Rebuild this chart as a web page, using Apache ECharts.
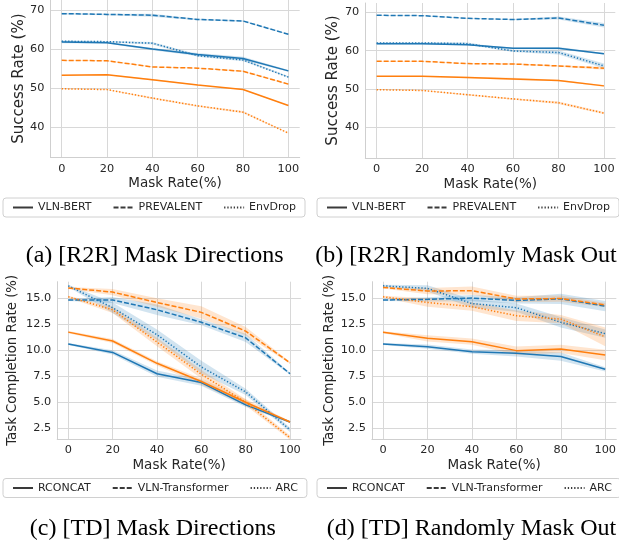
<!DOCTYPE html>
<html><head><meta charset="utf-8">
<script src="https://cdn.jsdelivr.net/npm/echarts@6/dist/echarts.min.js"></script>
<style>html,body{margin:0;padding:0;background:#fff}#c{width:619px;height:544px}</style>
</head><body><div id="c"></div>
<script>
// ---------- data ----------
const maskRates = [0, 20, 40, 60, 80, 100];
const r2rTicks = [40, 50, 60, 70];
const tdTicks = [2.5, 5.0, 7.5, 10.0, 12.5, 15.0];
const r2rLegend = ['VLN-BERT', 'PREVALENT', 'EnvDrop'];
const tdLegend = ['RCONCAT', 'VLN-Transformer', 'ARC'];
const captions = ['(a) [R2R] Mask Directions', '(b) [R2R] Randomly Mask Out',
                  '(c) [TD] Mask Directions', '(d) [TD] Randomly Mask Out'];
const xLabel = 'Mask Rate(%)';
const r2rYLabel = 'Success Rate (%)';
const tdYLabel = 'Task Completion Rate (%)';

// (a) R2R Mask Directions
const aBlueVlnBert = [61.8, 61.6, 60.0, 58.6, 57.6, 54.4];
const aBluePrevalent = [69.1, 68.9, 68.7, 67.6, 67.2, 63.8];
const aBlueEnvDrop = [62.0, 61.9, 61.5, 58.3, 57.2, 52.8];
const aOrangeVlnBert = [53.3, 53.4, 52.1, 50.8, 49.6, 45.5];
const aOrangePrevalent = [57.1, 57.0, 55.4, 55.1, 54.3, 51.0];
const aOrangeEnvDrop = [49.8, 49.6, 47.4, 45.4, 43.8, 38.4];
const aBlueVlnBertSpread = [0.3, 0.2, 0.3, 0.4, 0.4, 0.2];
const aBluePrevalentSpread = [0.2, 0.2, 0.4, 0.2, 0.2, 0.1];
const aBlueEnvDropSpread = [0.2, 0.2, 0.3, 0.3, 0.3, 0.2];
const aOrangeVlnBertSpread = [0.1, 0.1, 0.2, 0.1, 0.1, 0.1];
const aOrangePrevalentSpread = [0.1, 0.1, 0.1, 0.1, 0.2, 0.1];
const aOrangeEnvDropSpread = [0.1, 0.1, 0.2, 0.2, 0.3, 0.1];

// (b) R2R Randomly Mask Out
const bBlueVlnBert = [61.8, 61.8, 61.5, 60.6, 60.6, 59.2];
const bBluePrevalent = [69.2, 69.1, 68.4, 68.1, 68.5, 66.6];
const bBlueEnvDrop = [62.0, 62.0, 61.8, 59.9, 59.5, 56.0];
const bOrangeVlnBert = [53.3, 53.3, 53.0, 52.6, 52.2, 50.8];
const bOrangePrevalent = [57.2, 57.2, 56.6, 56.5, 56.0, 55.4];
const bOrangeEnvDrop = [49.8, 49.6, 48.5, 47.4, 46.4, 43.7];
const bBlueVlnBertSpread = [0.2, 0.2, 0.2, 0.2, 0.3, 0.2];
const bBluePrevalentSpread = [0.1, 0.1, 0.1, 0.1, 0.4, 0.6];
const bBlueEnvDropSpread = [0.2, 0.2, 0.3, 0.3, 0.5, 0.6];
const bOrangeVlnBertSpread = [0.1, 0.1, 0.2, 0.3, 0.2, 0.2];
const bOrangePrevalentSpread = [0.1, 0.1, 0.1, 0.2, 0.2, 0.4];
const bOrangeEnvDropSpread = [0.1, 0.1, 0.2, 0.2, 0.3, 0.3];

// (c) TD Mask Directions
const cBlueRconcat = [10.6, 9.8, 7.75, 6.9, 4.75, 3.1];
const cBlueVlnT = [14.84, 14.84, 13.9, 12.7, 11.2, 7.75];
const cBlueArc = [16.2, 14.1, 11.5, 8.4, 6.0, 2.35];
const cOrangeRconcat = [11.75, 10.9, 8.75, 7.0, 5.0, 3.1];
const cOrangeVlnT = [16.0, 15.6, 14.6, 13.65, 11.85, 8.8];
const cOrangeArc = [15.15, 13.9, 10.8, 7.7, 5.0, 1.6];
const cBlueRconcatSpread = [0.1, 0.2, 0.3, 0.3, 0.2, 0.1];
const cBlueVlnTSpread = [0.1, 0.3, 0.5, 0.3, 0.4, 0.1];
const cBlueArcSpread = [0.1, 0.5, 0.5, 0.6, 0.3, 0.2];
const cOrangeRconcatSpread = [0.1, 0.2, 0.2, 0.3, 0.3, 0.1];
const cOrangeVlnTSpread = [0.1, 0.3, 0.4, 0.6, 0.4, 0.1];
const cOrangeArcSpread = [0.1, 0.3, 0.4, 0.4, 0.3, 0.2];

// (d) TD Randomly Mask Out
const dBlueRconcat = [10.6, 10.35, 9.87, 9.71, 9.4, 8.17];
const dBlueVlnT = [14.84, 14.9, 15.03, 14.8, 14.95, 14.25];
const dBlueArc = [16.2, 15.96, 14.5, 14.1, 12.7, 11.6];
const dOrangeRconcat = [11.73, 11.15, 10.83, 9.97, 10.13, 9.55];
const dOrangeVlnT = [16.05, 15.7, 15.74, 14.94, 14.98, 14.36];
const dOrangeArc = [15.15, 14.6, 14.2, 13.33, 13.0, 11.3];
const dBlueRconcatSpread = [0.1, 0.2, 0.2, 0.3, 0.4, 0.2];
const dBlueVlnTSpread = [0.1, 0.2, 0.3, 0.3, 0.5, 0.5];
const dBlueArcSpread = [0.1, 0.3, 0.4, 0.4, 0.5, 0.4];
const dOrangeRconcatSpread = [0.1, 0.3, 0.3, 0.4, 0.4, 0.5];
const dOrangeVlnTSpread = [0.1, 0.3, 0.4, 0.3, 0.3, 0.2];
const dOrangeArcSpread = [0.1, 0.4, 0.4, 0.5, 0.4, 0.9];

// ---------- styling ----------
const BLUE = '#1f77b4', ORANGE = '#ff7f0e';
const BLUE_BAND = 'rgba(31,119,180,0.2)', ORANGE_BAND = 'rgba(255,127,14,0.2)';
const TXT = '#262626', GRID = '#d8d8d8';
const DASH = {solid: 'solid', dashed: [5, 2], dotted: [1.3, 1.9]};
const FONT = 'DejaVu Sans';

function lineS(idx, vals, dash, color) {
  return {
    type: 'line', xAxisIndex: idx, yAxisIndex: idx, symbol: 'none', z: 3, silent: true,
    data: maskRates.map((x, i) => [x, vals[i]]),
    lineStyle: {color: color, width: 1.5, type: DASH[dash]}, itemStyle: {color: color}
  };
}
function bandS(idx, vals, spread, color) {
  return {
    type: 'custom', xAxisIndex: idx, yAxisIndex: idx, z: 1, silent: true,
    data: maskRates.map((x, i) => [x, vals[i] - spread[i], vals[i] + spread[i]]),
    encode: {x: 0, y: [1, 2]},
    renderItem: function (params, api) {
      if (params.dataIndexInside !== 0) return;
      const n = params.dataInsideLength;
      const pts = [];
      for (let i = 0; i < n; i++) pts.push(api.coord([api.value(0, i), api.value(2, i)]));
      for (let i = n - 1; i >= 0; i--) pts.push(api.coord([api.value(0, i), api.value(1, i)]));
      return {type: 'polygon', shape: {points: pts}, style: {fill: color}};
    }
  };
}
function panel(idx, sets) {
  const out = [];
  sets.forEach(s => out.push(bandS(idx, s[0], s[1], s[3] === BLUE ? BLUE_BAND : ORANGE_BAND)));
  sets.forEach(s => out.push(lineS(idx, s[0], s[2], s[3])));
  return out;
}
const styles3 = ['solid', 'dashed', 'dotted'];

let series = [];
series = series.concat(panel(0, [
  [aBlueVlnBert, aBlueVlnBertSpread, 'solid', BLUE], [aBluePrevalent, aBluePrevalentSpread, 'dashed', BLUE],
  [aBlueEnvDrop, aBlueEnvDropSpread, 'dotted', BLUE], [aOrangeVlnBert, aOrangeVlnBertSpread, 'solid', ORANGE],
  [aOrangePrevalent, aOrangePrevalentSpread, 'dashed', ORANGE], [aOrangeEnvDrop, aOrangeEnvDropSpread, 'dotted', ORANGE]]));
series = series.concat(panel(1, [
  [bBlueVlnBert, bBlueVlnBertSpread, 'solid', BLUE], [bBluePrevalent, bBluePrevalentSpread, 'dashed', BLUE],
  [bBlueEnvDrop, bBlueEnvDropSpread, 'dotted', BLUE], [bOrangeVlnBert, bOrangeVlnBertSpread, 'solid', ORANGE],
  [bOrangePrevalent, bOrangePrevalentSpread, 'dashed', ORANGE], [bOrangeEnvDrop, bOrangeEnvDropSpread, 'dotted', ORANGE]]));
series = series.concat(panel(2, [
  [cBlueRconcat, cBlueRconcatSpread, 'solid', BLUE], [cBlueVlnT, cBlueVlnTSpread, 'dashed', BLUE],
  [cBlueArc, cBlueArcSpread, 'dotted', BLUE], [cOrangeRconcat, cOrangeRconcatSpread, 'solid', ORANGE],
  [cOrangeVlnT, cOrangeVlnTSpread, 'dashed', ORANGE], [cOrangeArc, cOrangeArcSpread, 'dotted', ORANGE]]));
series = series.concat(panel(3, [
  [dBlueRconcat, dBlueRconcatSpread, 'solid', BLUE], [dBlueVlnT, dBlueVlnTSpread, 'dashed', BLUE],
  [dBlueArc, dBlueArcSpread, 'dotted', BLUE], [dOrangeRconcat, dOrangeRconcatSpread, 'solid', ORANGE],
  [dOrangeVlnT, dOrangeVlnTSpread, 'dashed', ORANGE], [dOrangeArc, dOrangeArcSpread, 'dotted', ORANGE]]));
// legend entries (dark gray keys)
r2rLegend.concat(tdLegend).forEach((name, i) => {
  series.push({type: 'line', name: name, xAxisIndex: 0, yAxisIndex: 0, data: [], symbol: 'none',
    lineStyle: {color: '#3a3a3a', width: 1.4, type: DASH[styles3[i % 3]]}, itemStyle: {color: '#3a3a3a'}});
});

const gridsPos = [
  {left: 50.4, top: 0, width: 249.3, height: 157.3},
  {left: 365.3, top: 3, width: 250, height: 155},
  {left: 57.2, top: 281.7, width: 243.9, height: 157.3},
  {left: 371.9, top: 281.7, width: 245, height: 157.3}
];
const yRanges = [[32.2, 72.6], [32.0, 72.4], [1.47, 16.6], [1.47, 16.6]];
const yNameGaps = [23, 25, 38, 36];
const yNameSizes = [15, 15, 13.3, 13.3];

const xAxes = gridsPos.map((g, i) => ({
  type: 'value', gridIndex: i, min: -5, max: 105,
  axisLine: {show: true, onZero: false, lineStyle: {color: '#cfcfcf', width: 1}},
  axisTick: {show: false, customValues: maskRates},
  axisLabel: {customValues: maskRates, fontSize: 11.3, color: TXT, fontFamily: FONT, margin: 6},
  splitLine: {show: true, lineStyle: {color: GRID, width: 1}},
  name: xLabel, nameLocation: 'middle', nameGap: 19,
  nameTextStyle: {fontSize: 13.5, color: TXT, fontFamily: FONT}
}));
const yAxes = gridsPos.map((g, i) => {
  const ticks = i < 2 ? r2rTicks : tdTicks;
  return {
    type: 'value', gridIndex: i, min: yRanges[i][0], max: yRanges[i][1],
    axisLine: {show: true, onZero: false, lineStyle: {color: '#cfcfcf', width: 1}},
    axisTick: {show: false, customValues: ticks},
    axisLabel: {customValues: ticks, fontSize: 11.3, color: TXT, fontFamily: FONT, margin: 6,
      formatter: v => (i < 2 ? String(Math.round(v)) : v.toFixed(1))},
    splitLine: {show: true, lineStyle: {color: GRID, width: 1}},
    name: i < 2 ? r2rYLabel : tdYLabel, nameLocation: 'middle', nameGap: yNameGaps[i],
    nameTextStyle: {fontSize: yNameSizes[i], color: TXT, fontFamily: FONT}
  };
});

function legendAt(data, left, top) {
  return {
    data: data, left: left, top: top, orient: 'horizontal', width: 700,
    itemWidth: 20, itemHeight: 10, itemGap: 21, padding: [4, 9],
    borderColor: '#d0d0d0', borderWidth: 1, borderRadius: 3, backgroundColor: '#fff',
    selectedMode: false,
    itemStyle: {color: 'rgba(0,0,0,0)', borderWidth: 0, opacity: 0},
    textStyle: {fontSize: 11, color: TXT, fontFamily: FONT}
  };
}

const captionPos = [[154.7, 256], [466, 256], [152.8, 529], [471.5, 529]];
const graphic = captions.map((t, i) => ({
  type: 'text', x: captionPos[i][0], y: captionPos[i][1], silent: true,
  style: {text: t, font: '24px "Liberation Serif"', fill: '#000', align: 'center', verticalAlign: 'middle'}
}));

const chart = echarts.init(document.getElementById('c'), null, {renderer: 'canvas'});
chart.setOption({
  animation: false,
  backgroundColor: '#fff',
  grid: gridsPos,
  xAxis: xAxes,
  yAxis: yAxes,
  legend: [legendAt(r2rLegend, 3, 198), legendAt(r2rLegend, 317, 198),
           legendAt(tdLegend, 3, 478.5), legendAt(tdLegend, 317, 478.5)],
  graphic: graphic,
  series: series
});
</script></body></html>
